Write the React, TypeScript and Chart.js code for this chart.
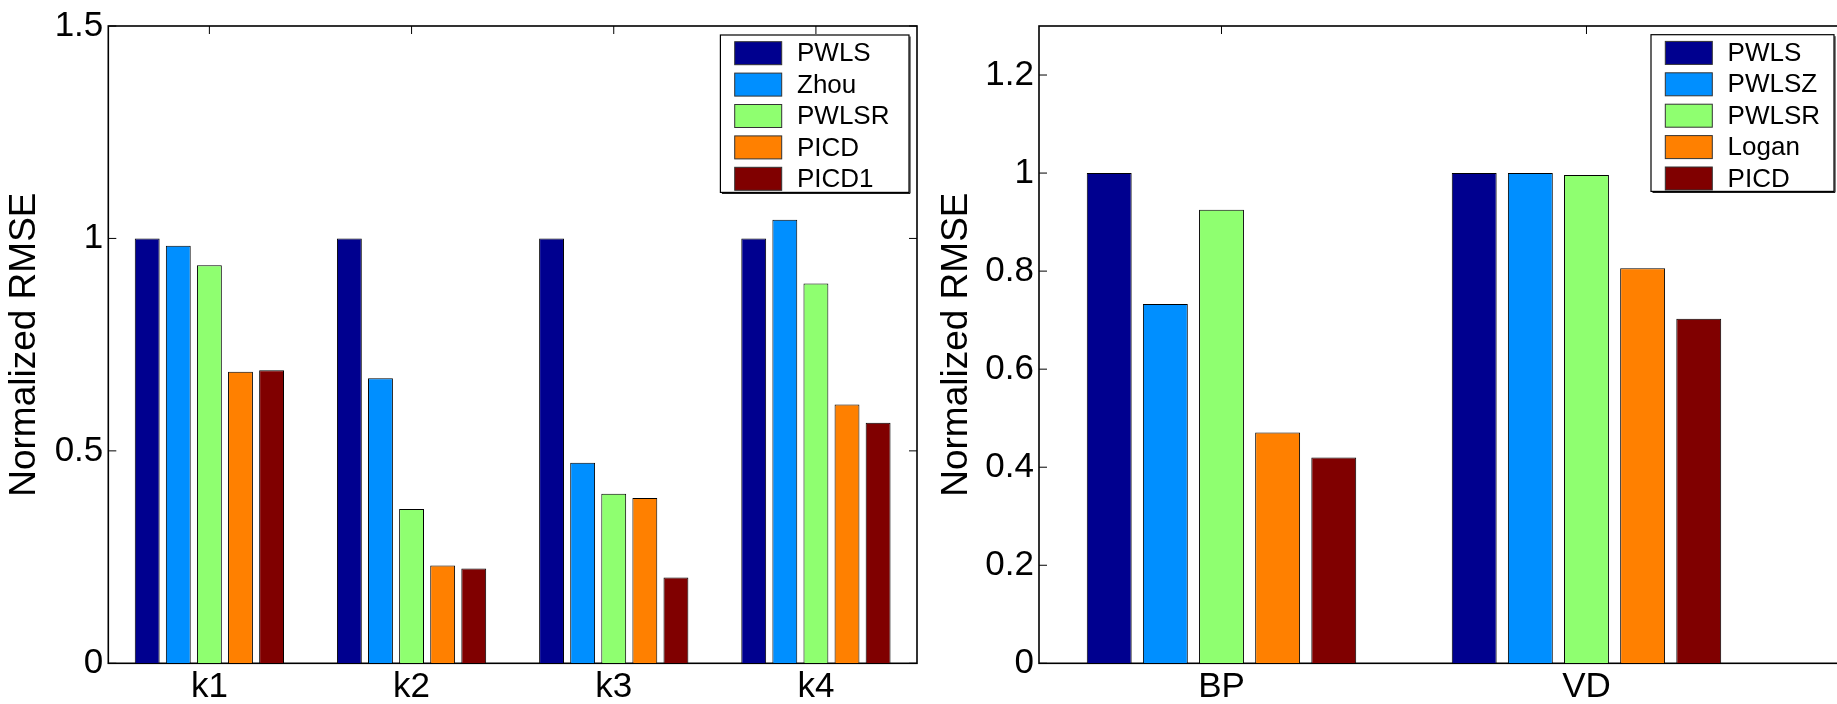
import React, { useEffect, useRef } from 'react';
import { Chart, registerables } from 'chart.js';
Chart.register(...registerables);

// ---- Left panel data ----
const leftCategories = ['k1', 'k2', 'k3', 'k4'];
const leftSeriesNames = ['PWLS', 'Zhou', 'PWLSR', 'PICD', 'PICD1'];
const leftPWLS = [1.0, 1.0, 1.0, 1.0];
const leftZhou = [0.983, 0.671, 0.472, 1.044];
const leftPWLSR = [0.937, 0.363, 0.399, 0.894];
const leftPICD = [0.686, 0.23, 0.389, 0.609];
const leftPICD1 = [0.69, 0.223, 0.202, 0.566];
const leftYTicks = [0, 0.5, 1, 1.5];

// ---- Right panel data ----
const rightCategories = ['BP', 'VD'];
const rightSeriesNames = ['PWLS', 'PWLSZ', 'PWLSR', 'Logan', 'PICD'];
const rightPWLS = [1.0, 1.0];
const rightPWLSZ = [0.733, 1.0];
const rightPWLSR = [0.925, 0.996];
const rightLogan = [0.471, 0.806];
const rightPICD = [0.42, 0.703];
const rightYTicks = [0, 0.2, 0.4, 0.6, 0.8, 1, 1.2];

const seriesColors = ['#00008F', '#008FFF', '#8FFF70', '#FF8000', '#800000'];
const yTitle = 'Normalized RMSE';
const FONT = '"Liberation Sans", Arial, Helvetica, sans-serif';

const framePlugin = {
  id: 'frame',
  beforeDatasetsDraw(chart: any) {
    const { ctx, chartArea: a, scales } = chart;
    ctx.save();
    ctx.strokeStyle = '#000';
    ctx.lineWidth = 1;
    const tl = 8;
    const line = (x1: number, y1: number, x2: number, y2: number) => {
      ctx.beginPath();
      ctx.moveTo(x1, y1);
      ctx.lineTo(x2, y2);
      ctx.stroke();
    };
    scales.y.ticks.forEach((t: any) => {
      const y = scales.y.getPixelForValue(t.value);
      line(a.left, y, a.left + tl, y);
      line(a.right, y, a.right - tl, y);
    });
    scales.x.ticks.forEach((t: any) => {
      const x = scales.x.getPixelForValue(t.value);
      line(x, a.top, x, a.top + tl);
      line(x, a.bottom, x, a.bottom - tl);
    });
    ctx.lineWidth = 1.6;
    ctx.strokeRect(a.left, a.top, a.right - a.left, a.bottom - a.top);
    ctx.restore();
  },
};

const legendPlugin = {
  id: 'boxLegend',
  afterDraw(chart: any, _args: any, o: any) {
    const { ctx, chartArea: a } = chart;
    const x0 = a.right - o.right - o.width;
    const y0 = a.top + o.top;
    ctx.save();
    ctx.fillStyle = '#fff';
    ctx.fillRect(x0, y0, o.width, o.height);
    ctx.strokeStyle = '#000';
    ctx.lineWidth = 1.2;
    ctx.strokeRect(x0, y0, o.width, o.height);
    ctx.lineWidth = 1;
    ctx.beginPath();
    ctx.moveTo(x0 + 1.5, y0 + o.height + 1);
    ctx.lineTo(x0 + o.width + 1, y0 + o.height + 1);
    ctx.lineTo(x0 + o.width + 1, y0 + 1.5);
    ctx.stroke();
    ctx.font = `26px ${FONT}`;
    ctx.textBaseline = 'middle';
    ctx.textAlign = 'left';
    chart.data.datasets.forEach((ds: any, i: number) => {
      const sy = y0 + 6.7 + i * 31.4;
      ctx.fillStyle = ds.backgroundColor;
      ctx.fillRect(x0 + 14.3, sy, 47, 23);
      ctx.strokeStyle = '#333';
      ctx.lineWidth = 1;
      ctx.strokeRect(x0 + 14.3, sy, 47, 23);
      ctx.fillStyle = '#000';
      ctx.fillText(ds.label, x0 + 76.6, sy + 12.5);
    });
    ctx.restore();
  },
};

function makeConfig(
  categories: string[],
  names: string[],
  series: number[][],
  yTicks: number[],
  yMax: number,
  xMax: number,
  axisWidth: number,
  padRight: number,
  titlePad: number,
  legend: any
) {
  return {
    type: 'bar',
    data: {
      datasets: names.map((n, si) => ({
        label: n,
        data: categories.map((_, ci) => ({ x: ci + 1, y: series[si][ci] })),
        backgroundColor: seriesColors[si],
        borderColor: '#000',
        borderWidth: 1,
        categoryPercentage: 0.769,
        barPercentage: 0.8,
      })),
    },
    options: {
      animation: false,
      responsive: false,
      layout: { padding: { top: 25.3, right: padRight, left: 0, bottom: 0 } },
      plugins: {
        legend: { display: false },
        tooltip: { enabled: false },
        boxLegend: legend,
      },
      scales: {
        x: {
          type: 'linear',
          offset: false,
          min: 0.5,
          max: xMax,
          grid: { display: false, drawTicks: false, offset: false },
          border: { display: false },
          afterBuildTicks: (s: any) => {
            s.ticks = categories.map((_, i) => ({ value: i + 1 }));
          },
          afterFit: (s: any) => {
            s.height = 704 - 663.3;
          },
          ticks: {
            autoSkip: false,
            maxRotation: 0,
            padding: 3,
            color: '#000',
            font: { family: FONT, size: 35 },
            callback: (v: number) => categories[Math.round(v) - 1] ?? '',
          },
        },
        y: {
          type: 'linear',
          min: 0,
          max: yMax,
          grid: { display: false, drawTicks: false },
          border: { display: false },
          afterBuildTicks: (s: any) => {
            s.ticks = yTicks.map((v) => ({ value: v }));
          },
          afterFit: (s: any) => {
            s.width = axisWidth;
          },
          ticks: {
            padding: 5,
            color: '#000',
            font: { family: FONT, size: 35 },
            callback: (v: number) => String(Math.round(v * 10) / 10),
          },
          title: {
            display: true,
            text: yTitle,
            color: '#000',
            font: { family: FONT, size: 37 },
            padding: { top: titlePad, bottom: 0 },
          },
        },
      },
    },
    plugins: [framePlugin, legendPlugin],
  };
}

export default function App() {
  const leftRef = useRef<HTMLCanvasElement>(null);
  const rightRef = useRef<HTMLCanvasElement>(null);

  useEffect(() => {
    const left = new Chart(
      leftRef.current as HTMLCanvasElement,
      makeConfig(
        leftCategories,
        leftSeriesNames,
        [leftPWLS, leftZhou, leftPWLSR, leftPICD, leftPICD1],
        leftYTicks,
        1.5,
        4.5,
        108.3,
        13,
        3,
        { width: 188.6, height: 157.4, right: 8, top: 9 }
      ) as any
    );
    const right = new Chart(
      rightRef.current as HTMLCanvasElement,
      makeConfig(
        rightCategories,
        rightSeriesNames,
        [rightPWLS, rightPWLSZ, rightPWLSR, rightLogan, rightPICD],
        rightYTicks,
        1.3,
        2.722,
        109,
        10,
        5,
        { width: 183, height: 156.7, right: 16, top: 8.7 }
      ) as any
    );
    return () => {
      left.destroy();
      right.destroy();
    };
  }, []);

  return (
    <div
      style={{
        position: 'absolute',
        left: 0,
        top: 0,
        width: 1837,
        height: 704,
        overflow: 'hidden',
        background: '#fff',
      }}
    >
      <canvas
        ref={leftRef}
        width={930}
        height={704}
        style={{ position: 'absolute', left: 0, top: 0, width: 930, height: 704 }}
      />
      <canvas
        ref={rightRef}
        width={930}
        height={704}
        style={{ position: 'absolute', left: 930, top: 0, width: 930, height: 704 }}
      />
    </div>
  );
}
